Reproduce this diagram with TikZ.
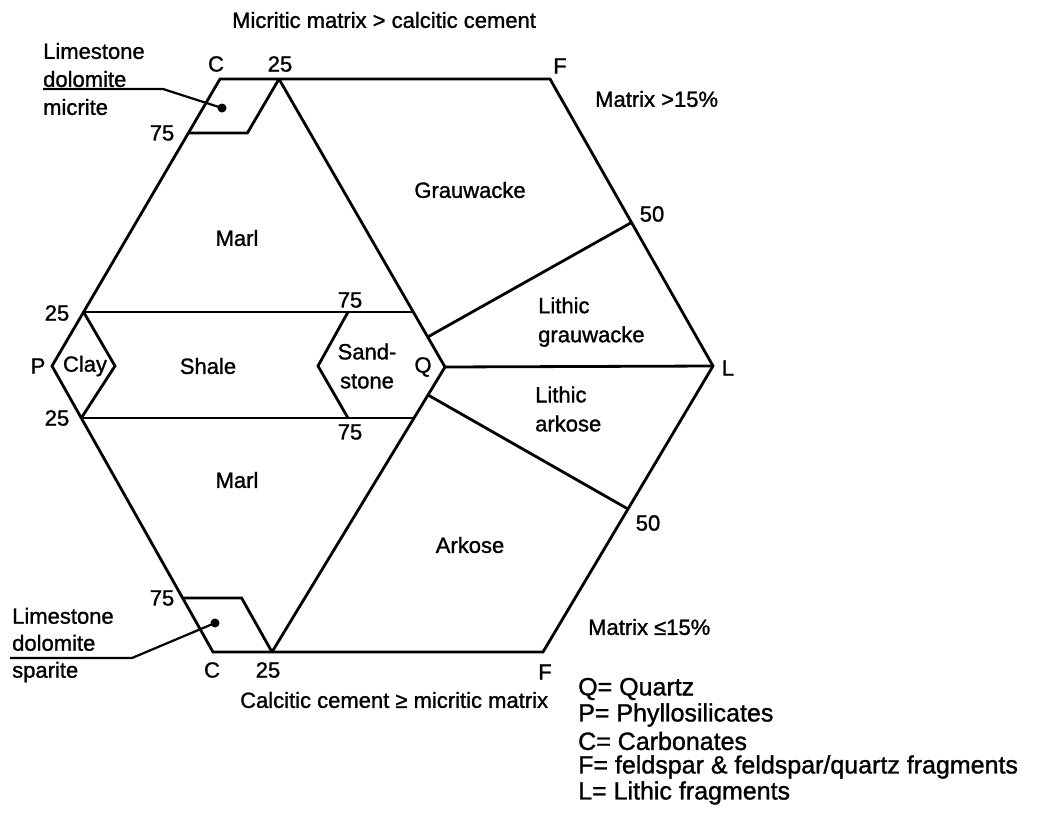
\documentclass[tikz,border=0pt]{standalone}
\usepackage{fontspec}
\setmainfont{Liberation Sans}[FakeBold=1.2]
\begin{document}
\begin{tikzpicture}[x=1pt,y=-1pt,
  edge/.style={line width=2.8pt, line join=miter},
  thin/.style={line width=2.2pt},
  lbl/.style={font=\fontsize{22}{29}\selectfont, inner sep=0pt, align=center},
  lblw/.style={font=\fontsize{22}{29}\selectfont, inner sep=0pt, align=left, anchor=west},
  leg/.style={font=\fontsize{25}{26}\selectfont, inner sep=0pt, anchor=west}]
\useasboundingbox (0,0) rectangle (1050,830);
% hexagon vertices
\coordinate (P) at (52,366);
\coordinate (Ct) at (220,79);
\coordinate (Ft) at (550,79);
\coordinate (L) at (713,366);
\coordinate (Fb) at (543,652);
\coordinate (Cb) at (213,652);
% internal points
\coordinate (Qv) at (445,367);
\coordinate (t25) at (279,79);
\coordinate (t75) at (188.4,133);
\coordinate (tp) at (247.4,133);
\coordinate (b25) at (272,652);
\coordinate (b75) at (182.6,598);
\coordinate (bp) at (241.6,598);
\coordinate (bl1) at (83.6,312);
\coordinate (br1) at (413.3,312);
\coordinate (bl2) at (81.3,418);
\coordinate (br2) at (414,418);
\coordinate (s1) at (348,312);
\coordinate (s2) at (318,366);
\coordinate (s3) at (348,418);
\coordinate (cl) at (115,366);
\coordinate (Qa) at (427.7,337);
\coordinate (Qb) at (428,395);
\coordinate (R50a) at (631.5,222.5);
\coordinate (R50b) at (628,509);
\coordinate (dt) at (222,108);
\coordinate (db) at (215,623);
\coordinate (ut1) at (163,89);
\coordinate (ut2) at (43,89);
\coordinate (ub1) at (132,658);
\coordinate (ub2) at (10,658);

\draw[edge] (P) -- (Ct) -- (Ft) -- (L) -- (Fb) -- (Cb) -- cycle;
\draw[edge] (t25) -- (Qv) -- (b25);
\draw[edge] (t25) -- (tp) -- (t75);
\draw[edge] (b75) -- (bp) -- (b25);
\draw[edge] (bl1) -- (br1);
\draw[edge] (bl2) -- (br2);
\draw[edge] (s1) -- (s2) -- (s3);
\draw[edge] (bl1) -- (cl) -- (bl2);
\draw[edge] (Qv) -- (L);
\draw[edge] (Qa) -- (R50a);
\draw[edge] (Qb) -- (R50b);
\draw[thin] (dt) -- (ut1) -- (ut2);
\draw[thin] (db) -- (ub1) -- (ub2);
\fill (dt) circle (4.5);
\fill (db) circle (4.5);

% labels
\node[lblw] (title1) at (232,20) {Micritic matrix > calcitic cement};
\node[lblw] (title2) at (240,700) {Calcitic cement ≥ micritic matrix};
\node[lbl] (lCt) at (216,64) {C};
\node[lbl] (lt25) at (280,64) {25};
\node[lbl] (lt75) at (162,133) {75};
\node[lbl] (lFt) at (560,66) {F};
\node[lblw] (mx1) at (595,99) {Matrix >15\%};
\node[lbl] (l50a) at (652,214) {50};
\node[lbl] (grau) at (470,190) {Grauwacke};
\node[lbl] (marl1) at (237,238) {Marl};
\node[lbl] (l25a) at (57,313) {25};
\node[lbl] (lP) at (38,366) {P};
\node[lbl] (clay) at (85,366) {Clay};
\node[lbl] (shale) at (208,366) {Shale};
\node[lbl] (sand) at (367,366) {Sand-\\stone};
\node[lbl] (lQ) at (423,367) {Q};
\node[lbl] (lL) at (728,368) {L};
\node[lbl] (l25b) at (57,418) {25};
\node[lbl] (l75a) at (350,300) {75};
\node[lbl] (l75b) at (350,432) {75};
\node[lblw] (lgr) at (538,322) {Lithic\\grauwacke};
\node[lblw] (lar) at (535,409) {Lithic\\arkose};
\node[lbl] (marl2) at (237,480) {Marl};
\node[lbl] (ark) at (470,545) {Arkose};
\node[lbl] (l50b) at (648,523) {50};
\node[lblw] (mx2) at (588,627) {Matrix ≤15\%};
\node[lbl] (lt75b) at (162,598) {75};
\node[lbl] (lCb) at (212,670) {C};
\node[lbl] (lb25) at (268,670) {25};
\node[lbl] (lFb) at (545,672) {F};
\node[lblw, font=\fontsize{22}{28}\selectfont] (ls1) at (43,79) {Limestone\\dolomite\\micrite};
\node[lblw, font=\fontsize{22}{27}\selectfont] (ls2) at (12,645) {Limestone\\dolomite\\sparite};
% legend
\node[leg] (g1) at (578,689) {Q= Quartz};
\node[leg] (g2) at (578,715) {P= Phyllosilicates};
\node[leg] (g3) at (578,741) {C= Carbonates};
\node[leg] (g4) at (578,767) {F= feldspar \& feldspar/quartz fragments};
\node[leg] (g5) at (578,793) {L= Lithic fragments};
\end{tikzpicture}
\end{document}
